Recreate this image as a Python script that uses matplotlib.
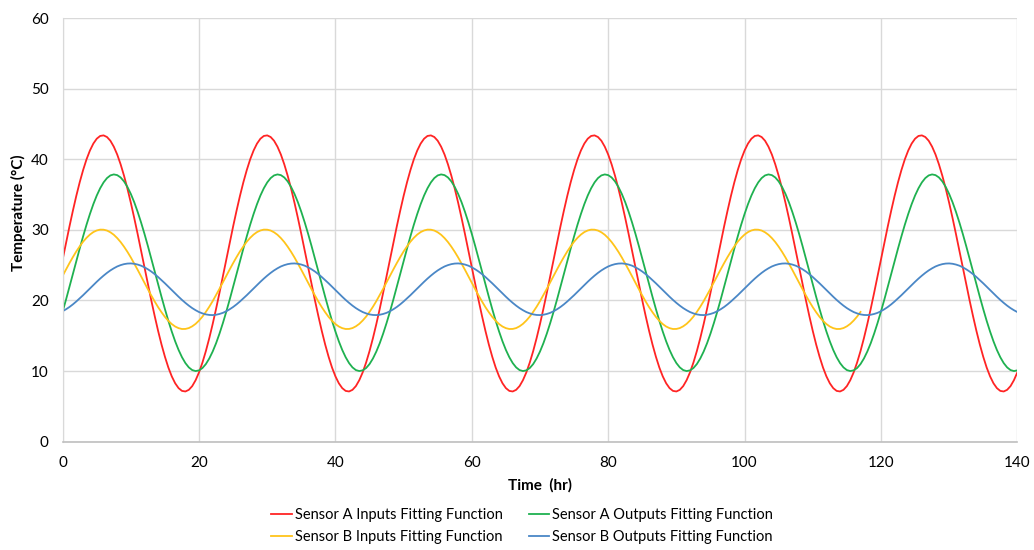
import numpy as np
import matplotlib
matplotlib.use("Agg")
import matplotlib.pyplot as plt

plt.rcParams['font.family'] = ['Lato', 'DejaVu Sans']

# values every half hour, 0 to 140 hr
hours = np.arange(0, 140.5, 0.5)

sensor_a_in = [
    25.82, 28.18, 30.50, 32.72, 34.82, 36.75, 38.48, 40.00, 41.25, 42.23, 42.92, 43.31, 43.39, 43.16, 42.63, 41.79, 40.68, 39.29, 37.67, 35.84, 33.83, 31.67, 29.40, 27.05,
    24.68, 22.32, 20.00, 17.78, 15.68, 13.75, 12.02, 10.50, 9.25, 8.27, 7.58, 7.19, 7.11, 7.34, 7.87, 8.71, 9.82, 11.21, 12.83, 14.66, 16.67, 18.83, 21.10, 23.45,
    25.82, 28.18, 30.50, 32.72, 34.82, 36.75, 38.48, 40.00, 41.25, 42.23, 42.92, 43.31, 43.39, 43.16, 42.63, 41.79, 40.68, 39.29, 37.67, 35.84, 33.83, 31.67, 29.40, 27.05,
    24.68, 22.32, 20.00, 17.78, 15.68, 13.75, 12.02, 10.50, 9.25, 8.27, 7.58, 7.19, 7.11, 7.34, 7.87, 8.71, 9.82, 11.21, 12.83, 14.66, 16.67, 18.83, 21.10, 23.45,
    25.82, 28.18, 30.50, 32.72, 34.82, 36.75, 38.48, 40.00, 41.25, 42.23, 42.92, 43.31, 43.39, 43.16, 42.63, 41.79, 40.68, 39.29, 37.67, 35.84, 33.83, 31.67, 29.40, 27.05,
    24.68, 22.32, 20.00, 17.78, 15.68, 13.75, 12.02, 10.50, 9.25, 8.27, 7.58, 7.19, 7.11, 7.34, 7.87, 8.71, 9.82, 11.21, 12.83, 14.66, 16.67, 18.83, 21.10, 23.45,
    25.82, 28.18, 30.50, 32.72, 34.82, 36.75, 38.48, 40.00, 41.25, 42.23, 42.92, 43.31, 43.39, 43.16, 42.63, 41.79, 40.68, 39.29, 37.67, 35.84, 33.83, 31.67, 29.40, 27.05,
    24.68, 22.32, 20.00, 17.78, 15.68, 13.75, 12.02, 10.50, 9.25, 8.27, 7.58, 7.19, 7.11, 7.34, 7.87, 8.71, 9.82, 11.21, 12.83, 14.66, 16.67, 18.83, 21.10, 23.45,
    25.82, 28.18, 30.50, 32.72, 34.82, 36.75, 38.48, 40.00, 41.25, 42.23, 42.92, 43.31, 43.39, 43.16, 42.63, 41.79, 40.68, 39.29, 37.67, 35.84, 33.83, 31.67, 29.40, 27.05,
    24.68, 22.32, 20.00, 17.78, 15.68, 13.75, 12.02, 10.50, 9.25, 8.27, 7.58, 7.19, 7.11, 7.34, 7.87, 8.71, 9.82, 11.21, 12.83, 14.66, 16.67, 18.83, 21.10, 23.45,
    25.82, 28.18, 30.50, 32.72, 34.82, 36.75, 38.48, 40.00, 41.25, 42.23, 42.92, 43.31, 43.39, 43.16, 42.63, 41.79, 40.68, 39.29, 37.67, 35.84, 33.83, 31.67, 29.40, 27.05,
    24.68, 22.32, 20.00, 17.78, 15.68, 13.75, 12.02, 10.50, 9.25, 8.27, 7.58, 7.19, 7.11, 7.34, 7.87, 8.71, 9.82,
]

sensor_a_out = [
    18.43, 20.15, 21.93, 23.75, 25.57, 27.36, 29.09, 30.74, 32.26, 33.65, 34.87, 35.90, 36.73, 37.34, 37.72, 37.86, 37.76, 37.43, 36.87, 36.08, 35.09, 33.91, 32.55, 31.05,
    29.43, 27.71, 25.93, 24.11, 22.29, 20.50, 18.77, 17.12, 15.60, 14.21, 12.99, 11.96, 11.13, 10.52, 10.14, 10.00, 10.10, 10.43, 10.99, 11.78, 12.77, 13.95, 15.31, 16.81,
    18.43, 20.15, 21.93, 23.75, 25.57, 27.36, 29.09, 30.74, 32.26, 33.65, 34.87, 35.90, 36.73, 37.34, 37.72, 37.86, 37.76, 37.43, 36.87, 36.08, 35.09, 33.91, 32.55, 31.05,
    29.43, 27.71, 25.93, 24.11, 22.29, 20.50, 18.77, 17.12, 15.60, 14.21, 12.99, 11.96, 11.13, 10.52, 10.14, 10.00, 10.10, 10.43, 10.99, 11.78, 12.77, 13.95, 15.31, 16.81,
    18.43, 20.15, 21.93, 23.75, 25.57, 27.36, 29.09, 30.74, 32.26, 33.65, 34.87, 35.90, 36.73, 37.34, 37.72, 37.86, 37.76, 37.43, 36.87, 36.08, 35.09, 33.91, 32.55, 31.05,
    29.43, 27.71, 25.93, 24.11, 22.29, 20.50, 18.77, 17.12, 15.60, 14.21, 12.99, 11.96, 11.13, 10.52, 10.14, 10.00, 10.10, 10.43, 10.99, 11.78, 12.77, 13.95, 15.31, 16.81,
    18.43, 20.15, 21.93, 23.75, 25.57, 27.36, 29.09, 30.74, 32.26, 33.65, 34.87, 35.90, 36.73, 37.34, 37.72, 37.86, 37.76, 37.43, 36.87, 36.08, 35.09, 33.91, 32.55, 31.05,
    29.43, 27.71, 25.93, 24.11, 22.29, 20.50, 18.77, 17.12, 15.60, 14.21, 12.99, 11.96, 11.13, 10.52, 10.14, 10.00, 10.10, 10.43, 10.99, 11.78, 12.77, 13.95, 15.31, 16.81,
    18.43, 20.15, 21.93, 23.75, 25.57, 27.36, 29.09, 30.74, 32.26, 33.65, 34.87, 35.90, 36.73, 37.34, 37.72, 37.86, 37.76, 37.43, 36.87, 36.08, 35.09, 33.91, 32.55, 31.05,
    29.43, 27.71, 25.93, 24.11, 22.29, 20.50, 18.77, 17.12, 15.60, 14.21, 12.99, 11.96, 11.13, 10.52, 10.14, 10.00, 10.10, 10.43, 10.99, 11.78, 12.77, 13.95, 15.31, 16.81,
    18.43, 20.15, 21.93, 23.75, 25.57, 27.36, 29.09, 30.74, 32.26, 33.65, 34.87, 35.90, 36.73, 37.34, 37.72, 37.86, 37.76, 37.43, 36.87, 36.08, 35.09, 33.91, 32.55, 31.05,
    29.43, 27.71, 25.93, 24.11, 22.29, 20.50, 18.77, 17.12, 15.60, 14.21, 12.99, 11.96, 11.13, 10.52, 10.14, 10.00, 10.10,
]

# sensor B inputs curve stops at 117 hr
sensor_b_in = [
    23.50, 24.41, 25.30, 26.15, 26.95, 27.67, 28.33, 28.88, 29.34, 29.69, 29.92, 30.04, 30.03, 29.91, 29.66, 29.31, 28.84, 28.28, 27.62, 26.89, 26.09, 25.23, 24.34, 23.42,
    22.50, 21.59, 20.70, 19.85, 19.05, 18.33, 17.67, 17.12, 16.66, 16.31, 16.08, 15.96, 15.97, 16.09, 16.34, 16.69, 17.16, 17.72, 18.38, 19.11, 19.91, 20.77, 21.66, 22.58,
    23.50, 24.41, 25.30, 26.15, 26.95, 27.67, 28.33, 28.88, 29.34, 29.69, 29.92, 30.04, 30.03, 29.91, 29.66, 29.31, 28.84, 28.28, 27.62, 26.89, 26.09, 25.23, 24.34, 23.42,
    22.50, 21.59, 20.70, 19.85, 19.05, 18.33, 17.67, 17.12, 16.66, 16.31, 16.08, 15.96, 15.97, 16.09, 16.34, 16.69, 17.16, 17.72, 18.38, 19.11, 19.91, 20.77, 21.66, 22.58,
    23.50, 24.41, 25.30, 26.15, 26.95, 27.67, 28.33, 28.88, 29.34, 29.69, 29.92, 30.04, 30.03, 29.91, 29.66, 29.31, 28.84, 28.28, 27.62, 26.89, 26.09, 25.23, 24.34, 23.42,
    22.50, 21.59, 20.70, 19.85, 19.05, 18.33, 17.67, 17.12, 16.66, 16.31, 16.08, 15.96, 15.97, 16.09, 16.34, 16.69, 17.16, 17.72, 18.38, 19.11, 19.91, 20.77, 21.66, 22.58,
    23.50, 24.41, 25.30, 26.15, 26.95, 27.67, 28.33, 28.88, 29.34, 29.69, 29.92, 30.04, 30.03, 29.91, 29.66, 29.31, 28.84, 28.28, 27.62, 26.89, 26.09, 25.23, 24.34, 23.42,
    22.50, 21.59, 20.70, 19.85, 19.05, 18.33, 17.67, 17.12, 16.66, 16.31, 16.08, 15.96, 15.97, 16.09, 16.34, 16.69, 17.16, 17.72, 18.38, 19.11, 19.91, 20.77, 21.66, 22.58,
    23.50, 24.41, 25.30, 26.15, 26.95, 27.67, 28.33, 28.88, 29.34, 29.69, 29.92, 30.04, 30.03, 29.91, 29.66, 29.31, 28.84, 28.28, 27.62, 26.89, 26.09, 25.23, 24.34, 23.42,
    22.50, 21.59, 20.70, 19.85, 19.05, 18.33, 17.67, 17.12, 16.66, 16.31, 16.08, 15.96, 15.97, 16.09, 16.34, 16.69, 17.16, 17.72, 18.38,
]

sensor_b_out = [
    18.48, 18.76, 19.08, 19.45, 19.86, 20.30, 20.75, 21.23, 21.71, 22.18, 22.65, 23.10, 23.52, 23.91, 24.26, 24.56, 24.82, 25.01, 25.15, 25.23, 25.25, 25.20, 25.09, 24.93,
    24.70, 24.42, 24.10, 23.73, 23.32, 22.88, 22.43, 21.95, 21.48, 21.00, 20.53, 20.08, 19.66, 19.27, 18.92, 18.62, 18.36, 18.17, 18.03, 17.95, 17.93, 17.98, 18.09, 18.25,
    18.48, 18.76, 19.08, 19.45, 19.86, 20.30, 20.75, 21.23, 21.71, 22.18, 22.65, 23.10, 23.52, 23.91, 24.26, 24.56, 24.82, 25.01, 25.15, 25.23, 25.25, 25.20, 25.09, 24.93,
    24.70, 24.42, 24.10, 23.73, 23.32, 22.88, 22.43, 21.95, 21.48, 21.00, 20.53, 20.08, 19.66, 19.27, 18.92, 18.62, 18.36, 18.17, 18.03, 17.95, 17.93, 17.98, 18.09, 18.25,
    18.48, 18.76, 19.08, 19.45, 19.86, 20.30, 20.75, 21.23, 21.71, 22.18, 22.65, 23.10, 23.52, 23.91, 24.26, 24.56, 24.82, 25.01, 25.15, 25.23, 25.25, 25.20, 25.09, 24.93,
    24.70, 24.42, 24.10, 23.73, 23.32, 22.88, 22.43, 21.95, 21.48, 21.00, 20.53, 20.08, 19.66, 19.27, 18.92, 18.62, 18.36, 18.17, 18.03, 17.95, 17.93, 17.98, 18.09, 18.25,
    18.48, 18.76, 19.08, 19.45, 19.86, 20.30, 20.75, 21.23, 21.71, 22.18, 22.65, 23.10, 23.52, 23.91, 24.26, 24.56, 24.82, 25.01, 25.15, 25.23, 25.25, 25.20, 25.09, 24.93,
    24.70, 24.42, 24.10, 23.73, 23.32, 22.88, 22.43, 21.95, 21.48, 21.00, 20.53, 20.08, 19.66, 19.27, 18.92, 18.62, 18.36, 18.17, 18.03, 17.95, 17.93, 17.98, 18.09, 18.25,
    18.48, 18.76, 19.08, 19.45, 19.86, 20.30, 20.75, 21.23, 21.71, 22.18, 22.65, 23.10, 23.52, 23.91, 24.26, 24.56, 24.82, 25.01, 25.15, 25.23, 25.25, 25.20, 25.09, 24.93,
    24.70, 24.42, 24.10, 23.73, 23.32, 22.88, 22.43, 21.95, 21.48, 21.00, 20.53, 20.08, 19.66, 19.27, 18.92, 18.62, 18.36, 18.17, 18.03, 17.95, 17.93, 17.98, 18.09, 18.25,
    18.48, 18.76, 19.08, 19.45, 19.86, 20.30, 20.75, 21.23, 21.71, 22.18, 22.65, 23.10, 23.52, 23.91, 24.26, 24.56, 24.82, 25.01, 25.15, 25.23, 25.25, 25.20, 25.09, 24.93,
    24.70, 24.42, 24.10, 23.73, 23.32, 22.88, 22.43, 21.95, 21.48, 21.00, 20.53, 20.08, 19.66, 19.27, 18.92, 18.62, 18.36,
]

labels = ['Sensor A Inputs Fitting Function', 'Sensor A Outputs Fitting Function',
          'Sensor B Inputs Fitting Function', 'Sensor B Outputs Fitting Function']
colors = ['#ff2424', '#1fb150', '#ffc41a', '#4a87c6']

fig = plt.figure(figsize=(10.34, 5.5), dpi=100)
ax = fig.add_axes([0.0606, 0.197, 0.9233, 0.770])

lw = 1.3
l1, = ax.plot(hours, sensor_a_in, color=colors[0], lw=lw, label=labels[0])
l2, = ax.plot(hours, sensor_a_out, color=colors[1], lw=lw, label=labels[1])
l3, = ax.plot(hours[:len(sensor_b_in)], sensor_b_in, color=colors[2], lw=lw, label=labels[2])
l4, = ax.plot(hours, sensor_b_out, color=colors[3], lw=lw, label=labels[3])

ax.set_xlim(0, 140)
ax.set_ylim(0, 60)
ax.set_xticks(np.arange(0, 141, 20))
ax.set_yticks(np.arange(0, 61, 10))
ax.grid(True, color='#d9d9d9', lw=1.0)
ax.set_axisbelow(True)
for s in ['top', 'right']:
    ax.spines[s].set_visible(False)
ax.spines['left'].set_color('#d9d9d9')
ax.spines['bottom'].set_color('#bfbfbf')
ax.spines['bottom'].set_linewidth(1.2)
ax.tick_params(length=0, labelsize=11, colors='#000000', pad=10)

ax.set_xlabel('Time  (hr)', fontsize=11, fontweight='bold', labelpad=6)
ax.set_ylabel('Temperature (°C)', fontsize=11, fontweight='bold', va='center')
ax.yaxis.set_label_coords(-0.046, 0.54)

# ncol=2 fills column-wise, so A-in / B-in go in the first column
fig.legend([l1, l3, l2, l4], [labels[0], labels[2], labels[1], labels[3]],
           ncol=2, loc='center', bbox_to_anchor=(0.505, 0.043), frameon=False,
           fontsize=10.5, handlelength=1.4, handletextpad=0.2, columnspacing=1.8,
           labelspacing=0.55)

fig.savefig('out.png', dpi=100)
